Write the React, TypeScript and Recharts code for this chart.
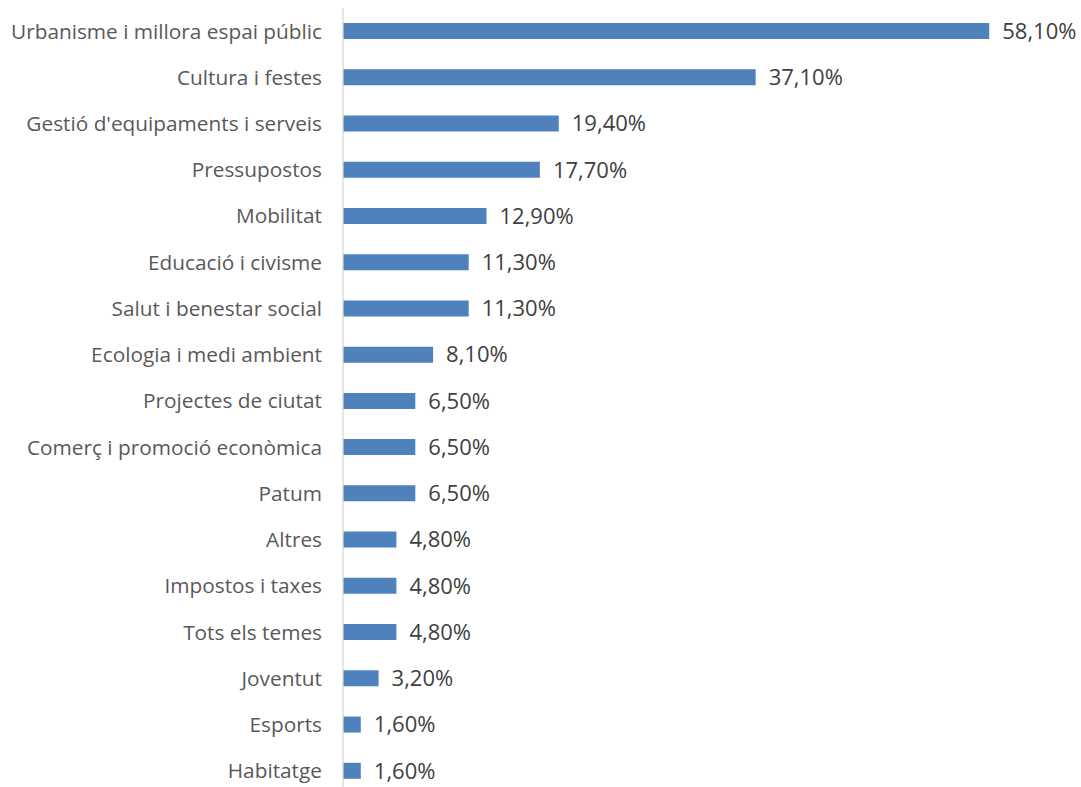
import { BarChart, Bar, XAxis, YAxis, LabelList } from 'recharts'

const categories = [
  'Urbanisme i millora espai públic',
  'Cultura i festes',
  "Gestió d'equipaments i serveis",
  'Pressupostos',
  'Mobilitat',
  'Educació i civisme',
  'Salut i benestar social',
  'Ecologia i medi ambient',
  'Projectes de ciutat',
  'Comerç i promoció econòmica',
  'Patum',
  'Altres',
  'Impostos i taxes',
  'Tots els temes',
  'Joventut',
  'Esports',
  'Habitatge',
]

const percentages = [58.1, 37.1, 19.4, 17.7, 12.9, 11.3, 11.3, 8.1, 6.5, 6.5, 6.5, 4.8, 4.8, 4.8, 3.2, 1.6, 1.6]

const data = categories.map((name, i) => ({ name, value: percentages[i] }))

const FONT = '"Open Sans", sans-serif'

const formatPct = (v: number) => v.toFixed(2).replace('.', ',') + '%'

export default function App() {
  return (
    <div style={{ position: 'absolute', left: 0, top: 0, width: 1081, height: 787, overflow: 'hidden', background: '#fff', fontFamily: FONT }}>
      <BarChart
        width={1081}
        height={800}
        data={data}
        layout="vertical"
        margin={{ top: 8, right: 15, bottom: 6, left: 0 }}
        barCategoryGap={0}
      >
        <XAxis type="number" domain={[0, 65]} hide />
        <YAxis
          type="category"
          dataKey="name"
          width={343}
          tickLine={false}
          tickSize={0}
          tickMargin={21}
          axisLine={{ stroke: '#d9d9d9', strokeWidth: 1.3 }}
          tick={{ fill: '#595959', fontSize: 20.8, fontFamily: FONT }}
          interval={0}
        />
        <Bar dataKey="value" fill="#4f81bd" barSize={16} isAnimationActive={false}>
          <LabelList
            dataKey="value"
            position="right"
            offset={13}
            formatter={(v: any) => formatPct(Number(v))}
            style={{ fill: '#404040', fontSize: 22, fontFamily: FONT }}
          />
        </Bar>
      </BarChart>
    </div>
  )
}
